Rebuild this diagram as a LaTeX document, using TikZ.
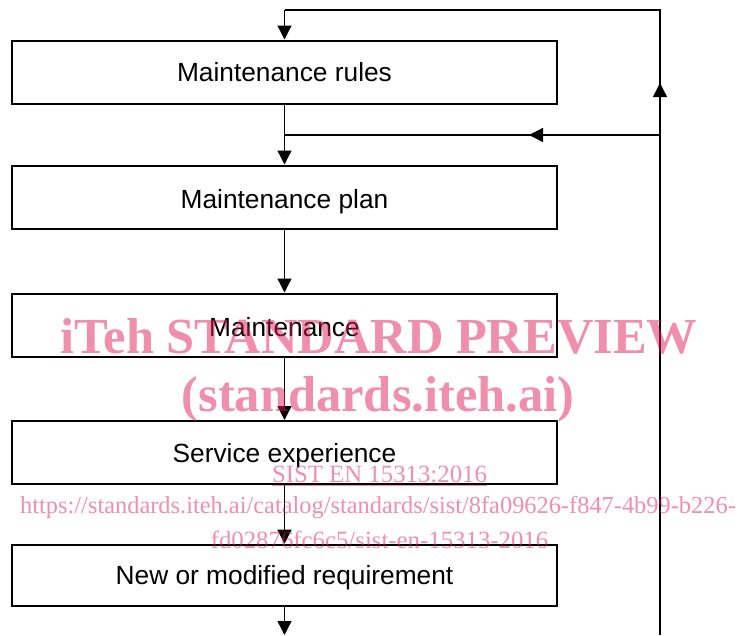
\documentclass[tikz,border=0pt]{standalone}
\usepackage{fontspec}
\setmainfont{Liberation Sans}
\newfontfamily\wmfont{Liberation Serif}
\usetikzlibrary{arrows.meta}
\definecolor{wmpink}{RGB}{223,31,91}
\tikzset{
  stage/.style={draw=black, line width=2pt, minimum width=545pt, minimum height=63pt,
    inner sep=0pt, text height=19pt, text depth=0pt, font=\fontsize{26.3}{30}\selectfont},
  lowtext/.style={text height=22pt, text depth=-3pt},
  conn/.style={draw=black, line width=1.3pt},
  tip/.style={-{Triangle[width=14pt,length=14pt]}},
  wm/.style={text=wmpink, text opacity=0.5, inner sep=0pt, anchor=base}
}
\begin{document}
\begin{tikzpicture}[x=1pt, y=-1pt]
\useasboundingbox (0,0) rectangle (739,635);
% process stages
\node[stage] (b1) at (284.5,72) {Maintenance rules};
\node[stage, lowtext] (b2) at (284.5,197) {Maintenance plan};
\node[stage, lowtext] (b3) at (284.5,325) {Maintenance};
\node[stage] (b4) at (284.5,452.5) {Service experience};
\node[stage, minimum height=61pt] (b5) at (284.5,575.2) {New or modified requirement};
% main flow
\draw[conn,tip] (b1.south) -- (b2.north);
\draw[conn,tip] (b2.south) -- (b3.north);
\draw[conn,tip] (b3.south) -- (b4.north);
\draw[conn,tip] (b4.south) -- (b5.north);
\coordinate (out) at (284.5,635);
\draw[conn,tip] (b5.south) -- (out);
% feedback loop on the right
\coordinate (rb) at (660,635);
\coordinate (rt) at (660,10);
\coordinate (lt) at (b1.north |- rt);
\draw[conn] (rb) -- (rt) -- (lt);
\draw[conn,tip] (lt) -- (b1.north);
\coordinate (upb) at (660,100);
\coordinate (upt) at (660,83);
\draw[conn,tip] (upb) -- (upt);
\coordinate (jr) at (660,135);
\coordinate (jl) at (b1.south |- jr);
\draw[conn] (jr) -- (jl);
\coordinate (lfb) at (548,135);
\coordinate (lft) at (529,135);
\draw[conn,tip] (lfb) -- (lft);
% overlay text
\node[wm, font=\wmfont\bfseries\fontsize{50.5}{55}\selectfont] (w1) at (379,353) {iTeh STANDARD PREVIEW};
\node[wm, font=\wmfont\bfseries\fontsize{50.5}{55}\selectfont] (w2) at (378,411) {(standards.iteh.ai)};
\node[wm, font=\wmfont\fontsize{24.8}{28}\selectfont] (w3) at (379.5,482.5) {SIST EN 15313:2016};
\draw[wmpink, draw opacity=0.5, line width=1pt] ([yshift=-2.5pt]w3.base west) -- ([yshift=-2.5pt]w3.base east);
\node[wm, font=\wmfont\fontsize{24.4}{28}\selectfont] (w4) at (378,513) {https://standards.iteh.ai/catalog/standards/sist/8fa09626-f847-4b99-b226-};
\node[wm, font=\wmfont\fontsize{24.8}{28}\selectfont] (w5) at (379.5,548) {fd02876fc6c5/sist-en-15313-2016};
\end{tikzpicture}
\end{document}
